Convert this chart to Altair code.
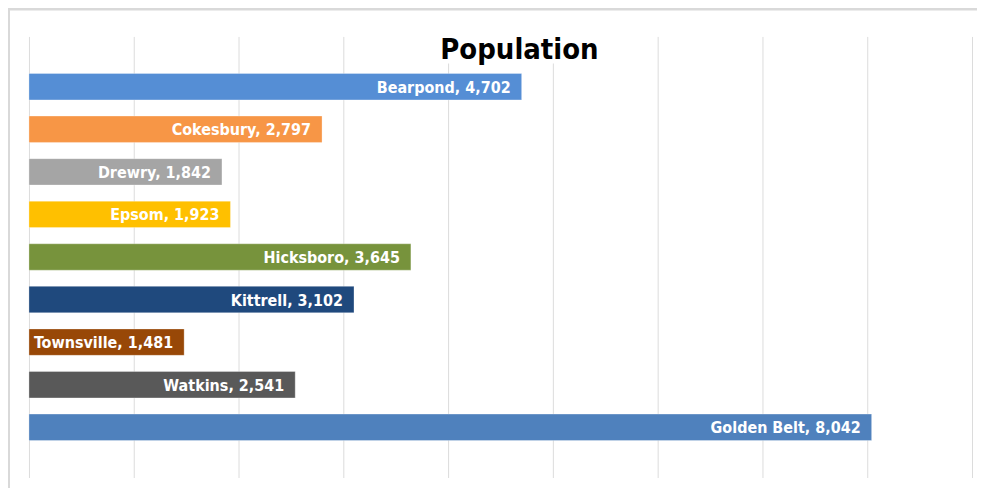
import altair as alt
import pandas as pd

towns = ["Bearpond", "Cokesbury", "Drewry", "Epsom", "Hicksboro", "Kittrell",
         "Townsville", "Watkins", "Golden Belt"]
population = [4702, 2797, 1842, 1923, 3645, 3102, 1481, 2541, 8042]
colors = ["#558ED5", "#F79646", "#A5A5A5", "#FFC000", "#77933C", "#1F497D",
          "#984807", "#595959", "#4F81BD"]
x_ticks = list(range(0, 9001, 1000))
title_text = "Population"

df = pd.DataFrame({"town": towns, "population": population, "color": colors})
df["label"] = [f"{t}, {p:,}" for t, p in zip(towns, population)]

W, H = 945, 442
FONT = "DejaVu Sans Condensed"

x = alt.X("population:Q",
          scale=alt.Scale(domain=[0, 9000], nice=False, zero=True),
          axis=alt.Axis(values=x_ticks, labels=False, ticks=False, domain=False,
                        title=None, grid=True, gridColor="#dcdcdc", gridWidth=1))
y = alt.Y("town:N", sort=towns,
          scale=alt.Scale(domain=towns, paddingInner=0.38, paddingOuter=0.87),
          axis=None)

base = alt.Chart(df)
bars = base.mark_bar(stroke="#ffffff", strokeWidth=0.6, strokeOpacity=0.5).encode(
    x=x, y=y, color=alt.Color("color:N", scale=None))
labels = base.mark_text(align="right", baseline="middle", dx=-11, dy=1,
                        font=FONT, fontWeight="bold", fontSize=16,
                        color="white").encode(x=x, y=y, text="label:N")

tdf = pd.DataFrame({"t": [title_text]})
title_box = alt.Chart(tdf).mark_rect(color="white").encode(
    x=alt.value(411), x2=alt.value(571), y=alt.value(-10), y2=alt.value(27))
title = alt.Chart(tdf).mark_text(align="center", baseline="alphabetic",
                                 font=FONT, fontWeight="bold", fontSize=29,
                                 color="#000000").encode(
    x=alt.value(491.5), y=alt.value(23), text="t:N")

border_left = alt.Chart(tdf).mark_rule(color="#d9d9d9", strokeWidth=4).encode(
    x=alt.value(-21), y=alt.value(-30), y2=alt.value(H + 40))
border_top = alt.Chart(tdf).mark_rule(color="#d9d9d9", strokeWidth=4).encode(
    x=alt.value(-23), x2=alt.value(W + 30), y=alt.value(-28))

chart = alt.layer(bars, labels, title_box, title, border_left, border_top).properties(
    width=W, height=H,
    autosize=alt.AutoSizeParams(type="none"),
    padding={"left": 21, "top": 28, "right": 5, "bottom": 10},
).configure_view(stroke=None)

chart.save("out.html", embed_options={"renderer": "svg", "actions": False})
